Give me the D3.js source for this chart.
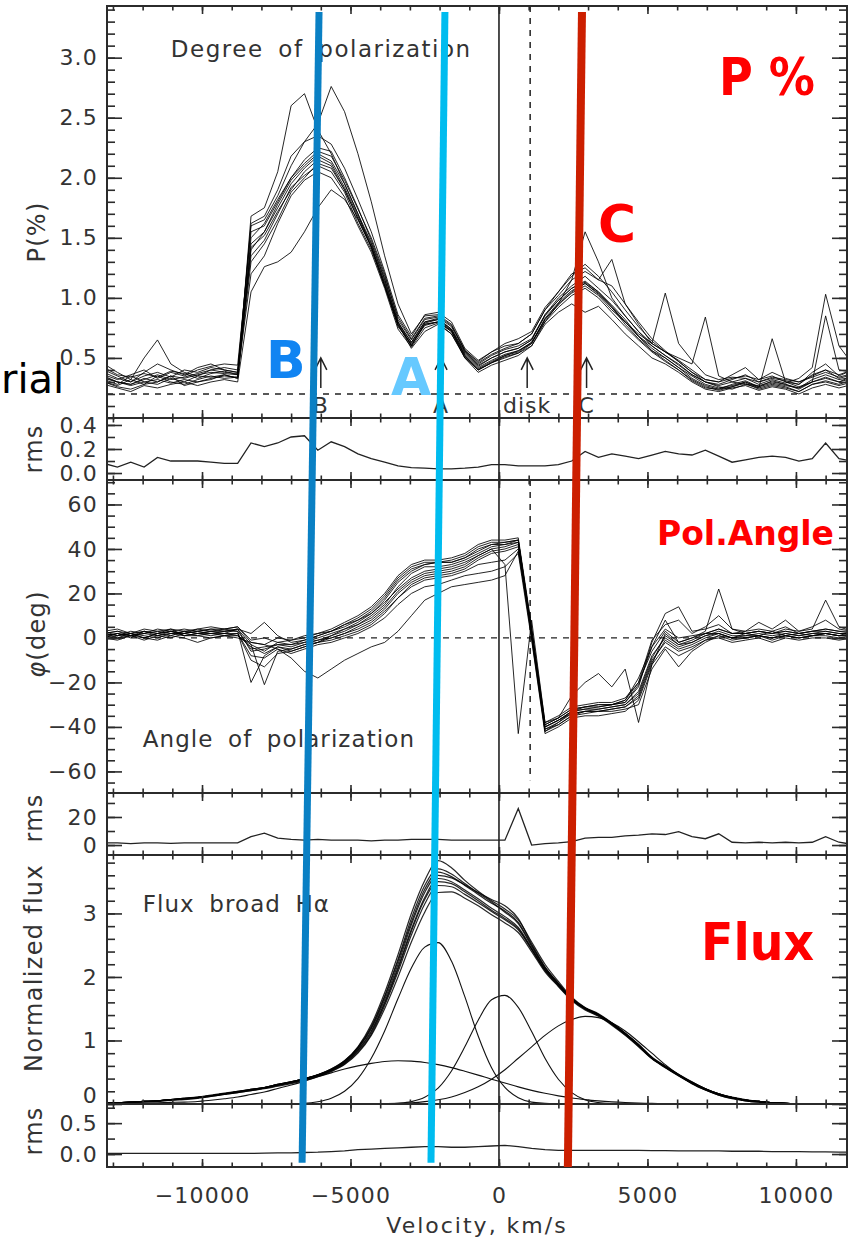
<!DOCTYPE html>
<html><head><meta charset="utf-8">
<script src="https://cdn.jsdelivr.net/npm/d3@7/dist/d3.min.js"></script>
<style>
html,body{margin:0;padding:0;background:#fff;}
svg{display:block;}
text{font-family:"DejaVu Sans",sans-serif;}
</style></head>
<body>
<svg id="chart" width="852" height="1240"></svg>
<script>
// ---------- DATA ----------
const velocity = [-13300,-12850,-12400,-11950,-11500,-11050,-10600,-10150,-9700,-9250,
  -8800,-8350,-7900,-7450,-7000,-6550,-6100,-5650,-5200,-4750,
  -4300,-3850,-3400,-2950,-2500,-2050,-1600,-1150,-700,-250,
  200,650,1100,1550,2000,2450,2900,3350,3800,4250,
  4700,5150,5600,6050,6500,6950,7400,7850,8300,8750,
  9200,9650,10100,10550,11000,11450,11900];

const xMajorTicks = [-10000,-5000,0,5000,10000];

// Degree of polarization P(%) - individual spectra
const pol01 = [0.35,0.30,0.28,0.33,0.30,0.35,0.33,0.36,0.38,0.37, 0.36,1.45,1.55,1.75,1.95,2.08,2.18,2.12,1.92,1.68, 1.45,1.15,0.80,0.63,0.80,0.82,0.74,0.54,0.43,0.50, 0.55,0.58,0.65,0.85,0.98,1.08,1.13,1.05,0.93,0.80, 0.68,0.58,0.50,0.42,0.35,0.28,0.25,0.27,0.30,0.26, 0.31,0.28,0.24,0.30,0.33,0.30,0.35];
const pol02 = [0.40,0.35,0.30,0.38,0.45,0.40,0.36,0.42,0.45,0.40, 0.38,1.60,1.65,1.85,2.10,2.30,2.45,2.76,2.55,2.20, 1.80,1.35,0.95,0.70,0.85,0.86,0.78,0.56,0.47,0.55, 0.60,0.62,0.70,0.90,1.05,1.20,1.25,1.15,1.10,0.95, 0.78,0.62,0.55,0.48,0.40,0.32,0.30,0.36,0.42,0.32, 0.35,0.30,0.28,0.38,0.45,0.35,0.40];
const pol03 = [0.32,0.28,0.35,0.30,0.28,0.33,0.30,0.35,0.34,0.36, 0.33,1.68,1.75,2.05,2.60,2.70,2.40,2.20,1.95,1.70, 1.42,1.10,0.78,0.60,0.78,0.80,0.72,0.50,0.40,0.46, 0.52,0.55,0.63,0.80,0.95,1.15,1.55,1.30,1.00,0.85, 0.72,0.60,0.52,0.45,0.36,0.30,0.26,0.24,0.28,0.25, 0.28,0.26,0.22,0.28,0.30,0.27,0.30];
const pol04 = [0.28,0.25,0.22,0.27,0.25,0.28,0.30,0.27,0.30,0.32, 0.30,1.05,1.26,1.30,1.38,1.55,1.75,1.90,1.82,1.65, 1.42,1.10,0.78,0.58,0.72,0.78,0.70,0.50,0.38,0.44, 0.48,0.52,0.60,0.78,0.88,0.95,0.88,0.93,0.82,0.70, 0.60,0.50,0.45,0.38,0.30,0.24,0.22,0.25,0.27,0.23, 0.26,0.24,0.20,0.25,0.28,0.25,0.28];
const pol05 = [0.45,0.38,0.32,0.50,0.65,0.45,0.38,0.35,0.40,0.42, 0.40,1.35,1.48,1.70,1.92,2.02,2.10,2.05,1.88,1.62, 1.40,1.10,0.76,0.62,0.78,0.80,0.73,0.53,0.42,0.48, 0.53,0.56,0.62,0.82,0.95,1.04,1.10,1.02,0.90,0.80, 0.70,0.62,1.04,0.62,0.48,0.36,0.32,0.34,0.33,0.30, 0.34,0.32,0.30,0.35,0.40,0.36,0.40];
const pol06 = [0.30,0.27,0.32,0.28,0.35,0.30,0.28,0.32,0.35,0.33, 0.34,1.50,1.62,1.82,2.00,2.12,2.22,2.18,1.98,1.74, 1.50,1.20,0.82,0.65,0.82,0.84,0.76,0.56,0.45,0.52, 0.57,0.60,0.66,0.86,1.00,1.10,1.18,1.08,0.98,0.85, 0.72,0.62,0.55,0.50,0.45,0.84,0.35,0.30,0.28,0.27, 0.30,0.28,0.25,0.32,0.36,0.32,0.34];
const pol07 = [0.38,0.33,0.30,0.35,0.38,0.34,0.40,0.38,0.42,0.40, 0.38,1.42,1.52,1.72,1.90,2.05,2.15,2.10,1.90,1.66, 1.43,1.13,0.79,0.63,0.80,0.83,0.74,0.55,0.44,0.50, 0.55,0.58,0.65,0.86,0.98,1.08,1.14,1.05,0.94,0.82, 0.68,0.60,0.52,0.44,0.36,0.30,0.27,0.30,0.33,0.28, 0.32,0.29,0.33,0.42,1.03,0.60,0.45];
const pol08 = [0.33,0.30,0.27,0.30,0.32,0.29,0.32,0.30,0.33,0.35, 0.34,1.30,1.45,1.65,1.88,2.00,2.12,2.08,1.90,1.66, 1.43,1.12,0.77,0.61,0.77,0.80,0.72,0.52,0.41,0.47, 0.52,0.56,0.63,0.82,0.94,1.05,1.12,1.04,0.92,0.80, 0.68,0.56,0.50,0.42,0.33,0.27,0.24,0.26,0.30,0.25, 0.66,0.30,0.26,0.30,0.85,0.40,0.38];
const pol09 = [0.36,0.32,0.36,0.40,0.33,0.38,0.35,0.40,0.43,0.45, 0.44,1.55,1.60,1.80,2.00,2.15,2.25,2.22,2.00,1.75, 1.48,1.18,0.84,0.66,0.83,0.85,0.77,0.57,0.46,0.53, 0.58,0.62,0.70,0.90,1.02,1.15,1.22,1.15,1.32,0.95, 0.80,0.66,0.56,0.47,0.38,0.30,0.28,0.32,0.36,0.30, 0.33,0.31,0.28,0.36,0.40,0.33,0.36];
const pol10 = [0.30,0.26,0.24,0.28,0.30,0.35,0.27,0.30,0.32,0.36, 0.33,1.40,1.55,1.78,1.98,2.10,2.20,2.14,1.95,1.70, 1.46,1.16,0.80,0.60,0.79,0.82,0.73,0.52,0.40,0.46, 0.50,0.54,0.62,0.83,0.96,1.06,1.12,1.03,0.92,0.78, 0.66,0.56,0.48,0.40,0.32,0.26,0.23,0.26,0.29,0.24, 0.27,0.25,0.22,0.28,0.31,0.28,0.32];
const pol11 = [0.34,0.30,0.28,0.32,0.36,0.32,0.34,0.37,0.40,0.38, 0.37,1.62,1.68,1.90,2.18,2.30,2.35,2.28,2.08,1.82, 1.55,1.22,0.86,0.68,0.86,0.88,0.80,0.58,0.48,0.55, 0.62,0.66,0.72,0.92,1.05,1.18,1.28,1.18,1.05,0.90, 0.76,0.64,0.55,0.47,0.38,0.32,0.30,0.33,0.35,0.32, 0.38,0.33,0.30,0.34,0.38,0.34,0.37];
const pol12 = [0.42,0.36,0.34,0.37,0.34,0.39,0.37,0.33,0.37,0.39, 0.36,1.20,1.35,1.62,1.85,1.98,2.05,2.00,1.84,1.60, 1.38,1.08,0.74,0.59,0.75,0.79,0.70,0.51,0.40,0.46, 0.51,0.54,0.60,0.80,0.92,1.02,1.08,1.00,0.88,0.76, 0.65,0.55,0.47,0.40,0.31,0.25,0.24,0.28,0.31,0.26, 0.29,0.27,0.25,0.30,0.34,0.30,0.33];
const polRms = [0.08,0.05,0.09,0.05,0.13,0.10,0.10,0.10,0.09,0.08, 0.08,0.25,0.22,0.25,0.30,0.31,0.19,0.26,0.22,0.16, 0.12,0.09,0.06,0.045,0.04,0.035,0.035,0.04,0.05,0.07, 0.07,0.06,0.06,0.06,0.07,0.10,0.18,0.13,0.16,0.14, 0.12,0.15,0.18,0.16,0.15,0.19,0.14,0.09,0.11,0.13, 0.14,0.13,0.10,0.12,0.25,0.12,0.10];

// Angle of polarization (deg) - individual spectra
const ang01 = [1,2,0,3,1,2,2,3,2,3, 3,-5,-4,-3,-4,-2,-1,0,2,5, 8,13,20,25,28,29,30,32,36,39, 40,42,2,-40,-37,-33,-32,-32,-31,-30, -24,-8,0,-4,-2,1,3,1,1,2, 1,2,1,2,3,2,2];
const ang02 = [3,1,2,0,2,4,1,2,3,2, 4,-3,-6,-2,-3,-1,1,3,5,8, 11,16,22,27,30,31,32,34,37,40, 33,-43,8,-38,-36,-32,-31,-30,-30,-28, -20,-6,3,-2,0,2,2,0,2,1, 3,1,2,1,2,1,3];
const ang03 = [0,-1,1,0,-1,1,0,-2,0,1, 0,-2,-3,-5,-9,-15,-18,-14,-10,-7, -4,-2,3,10,17,20,23,24,25,26, 28,39,3,-41,-39,-35,-33,-33,-32,-31, -26,-10,-2,-6,-4,-1,1,0,0,1, 0,1,0,1,2,1,1];
const ang04 = [2,3,1,2,4,3,2,4,3,4, 3,-20,-8,-4,-5,-3,-2,1,3,6, 10,15,23,29,32,32,33,35,38,41, 42,43,1,-39,-36,-26,-20,-16,-22,-14, -38,-12,2,-3,-1,2,4,2,2,3, 2,3,2,3,4,3,3];
const ang05 = [1,0,2,1,0,2,1,1,2,2, 1,-3,-21,-6,-5,-3,-1,1,4,7, 11,17,25,30,33,34,34,36,40,42, 43,44,4,-42,-38,-33,-31,-30,-30,-28, -18,-4,8,-2,0,3,22,4,2,3, 2,4,3,4,17,5,3];
const ang06 = [2,1,3,2,1,3,2,3,4,3, 4,2,7,1,-2,-1,1,3,6,9, 13,19,27,32,34,34,35,37,41,43, 43,44,3,-40,-37,-33,-32,-31,-30,-29, -22,-2,11,14,3,4,6,2,3,4, 3,5,2,3,4,3,2];
const ang07 = [0,2,1,3,2,1,3,2,1,2, 2,-10,-13,-7,-6,-4,-2,0,2,4, 7,12,18,24,27,28,29,31,35,38, 39,41,0,-42,-39,-35,-34,-33,-33,-32, -30,-14,-5,-13,-6,-2,1,-1,0,1, -1,1,0,1,1,0,1];
const ang08 = [-1,1,2,0,2,3,1,2,2,1, 2,-8,-9,-5,-7,-5,-3,-2,0,2, 5,9,15,20,23,24,26,28,29,30, 32,38,-1,-43,-40,-36,-35,-35,-34,-33, -28,-12,-4,-8,-5,-1,0,-2,-1,0, -2,0,-1,0,0,-1,0];
const ang09 = [3,4,2,4,3,4,3,4,5,4, 5,-2,-3,0,-1,1,2,4,7,10, 14,20,28,33,35,35,36,38,42,44, 44,45,5,-38,-35,-31,-30,-29,-29,-27, -20,-1,6,8,2,5,10,4,3,7, 4,8,3,5,8,4,3];
const ang10 = [1,2,1,2,3,2,3,2,3,3, 4,-6,-5,-3,-3,-2,0,2,4,6, 9,14,21,26,29,30,31,33,37,40, 41,43,2,-40,-37,-34,-33,-32,-31,-30, -25,-9,1,-3,-2,1,2,0,1,1, 0,2,1,2,2,1,2];
const ang11 = [2,0,1,-1,1,0,2,1,0,1, 1,-4,-7,-4,-6,-4,-2,-1,1,3, 6,11,18,23,26,27,28,30,33,34, 35,40,1,-41,-38,-34,-33,-33,-32,-31, -27,-11,-1,-5,-3,0,2,0,0,1, 0,1,0,1,2,1,1];
const ang12 = [2,3,2,3,2,3,4,3,4,4, 5,-1,0,-2,-1,0,2,3,6,8, 12,18,26,31,33,34,34,36,39,42, 42,44,3,-39,-36,-32,-31,-31,-30,-29, -21,-4,4,0,1,2,4,2,2,3, 2,3,2,3,3,2,2];
const angRms = [1.5,1.5,1.0,1.5,1.5,1.2,1.5,1.5,1.5,1.5, 1.5,6,8.5,5,4,3.5,4,3.5,3.5,3.5, 3,3.5,3.5,4,4,4,3.5,3.5,3.5,3.5, 3.5,26,0,1,1.5,2.5,5,5.5,5.5,6.5, 7,8,7.5,9.5,6,4.5,8,2,1.5,2, 1.5,2,1.5,2,6,2,0.5];

// Normalized broad H-alpha flux - individual spectra
const flux01 = [0.01,0.02,0.03,0.04,0.05,0.07,0.08,0.10,0.13,0.16, 0.19,0.22,0.25,0.30,0.34,0.39,0.45,0.53,0.65,0.85, 1.15,1.60,2.15,2.75,3.25,3.55,3.50,3.37,3.23,3.08, 2.95,2.78,2.45,2.12,1.88,1.65,1.50,1.40,1.26,1.10, 0.92,0.72,0.58,0.45,0.33,0.23,0.15,0.10,0.06,0.04, 0.02,0.01,0,0,0,0,0];
const flux02 = [0.01,0.02,0.03,0.04,0.05,0.07,0.09,0.11,0.14,0.17, 0.20,0.23,0.26,0.31,0.35,0.40,0.46,0.55,0.68,0.90, 1.25,1.75,2.35,3.00,3.52,3.83,3.72,3.52,3.35,3.20, 3.07,2.90,2.55,2.20,1.93,1.68,1.52,1.42,1.28,1.12, 0.94,0.74,0.60,0.47,0.35,0.24,0.16,0.11,0.07,0.04, 0.02,0.01,0,0,0,0,0];
const flux03 = [0.01,0.02,0.02,0.03,0.04,0.06,0.07,0.09,0.12,0.15, 0.18,0.21,0.24,0.28,0.32,0.37,0.43,0.51,0.62,0.80, 1.08,1.50,2.00,2.55,3.02,3.33,3.34,3.24,3.12,2.98, 2.85,2.70,2.40,2.08,1.85,1.63,1.48,1.38,1.24,1.08, 0.90,0.71,0.57,0.44,0.32,0.22,0.14,0.09,0.05,0.03, 0.02,0.01,0,0,0,0,0];
const flux04 = [0.01,0.02,0.03,0.04,0.05,0.07,0.08,0.10,0.13,0.16, 0.19,0.22,0.26,0.30,0.35,0.40,0.46,0.54,0.67,0.88, 1.20,1.68,2.25,2.86,3.38,3.65,3.58,3.44,3.30,3.16, 3.04,2.86,2.50,2.15,1.90,1.67,1.51,1.41,1.27,1.11, 0.93,0.73,0.59,0.46,0.34,0.24,0.16,0.10,0.06,0.04, 0.02,0.01,0,0,0,0,0];
const flux05 = [0.01,0.02,0.03,0.04,0.05,0.06,0.08,0.10,0.12,0.15, 0.18,0.21,0.25,0.29,0.33,0.38,0.44,0.52,0.63,0.82, 1.10,1.55,2.08,2.66,3.15,3.44,3.42,3.30,3.17,3.03, 2.90,2.74,2.43,2.10,1.86,1.64,1.49,1.39,1.25,1.09, 0.91,0.72,0.58,0.45,0.33,0.23,0.15,0.10,0.06,0.04, 0.02,0.01,0,0,0,0,0];
const flux06 = [0.01,0.02,0.03,0.04,0.05,0.07,0.09,0.10,0.13,0.16, 0.19,0.23,0.26,0.31,0.35,0.40,0.46,0.54,0.66,0.87, 1.18,1.64,2.20,2.82,3.33,3.60,3.56,3.45,3.33,3.22, 3.12,2.92,2.52,2.16,1.90,1.66,1.51,1.41,1.27,1.11, 0.93,0.73,0.59,0.46,0.34,0.24,0.16,0.10,0.06,0.04, 0.02,0.01,0,0,0,0,0];
const flux07 = [0.01,0.02,0.03,0.04,0.05,0.07,0.08,0.10,0.13,0.16, 0.19,0.22,0.25,0.30,0.34,0.39,0.45,0.53,0.64,0.84, 1.13,1.58,2.12,2.72,3.22,3.50,3.47,3.34,3.20,3.05, 2.92,2.76,2.44,2.11,1.87,1.65,1.50,1.40,1.26,1.10, 0.92,0.72,0.58,0.45,0.33,0.23,0.15,0.10,0.06,0.04, 0.02,0.01,0,0,0,0,0];
const flux08 = [0.01,0.02,0.03,0.04,0.05,0.07,0.09,0.11,0.13,0.16, 0.20,0.23,0.26,0.31,0.35,0.40,0.46,0.55,0.68,0.89, 1.22,1.70,2.28,2.92,3.44,3.70,3.62,3.47,3.32,3.18, 3.02,2.84,2.48,2.14,1.89,1.66,1.51,1.41,1.27,1.11, 0.93,0.73,0.59,0.46,0.34,0.24,0.16,0.10,0.06,0.04, 0.02,0.01,0,0,0,0,0];
// fitted Gaussian components of the line
const compBroad = [0,0.005,0.01,0.015,0.02,0.025,0.03,0.04,0.06,0.083, 0.11,0.15,0.19,0.245,0.30,0.36,0.43,0.49,0.55,0.60, 0.64,0.67,0.68,0.675,0.654,0.62,0.573,0.516,0.455,0.39, 0.33,0.27,0.215,0.168,0.128,0.095,0.069,0.049,0.034,0.023, 0.015,0.01,0.006,0,0,0,0,0,0,0, 0,0,0,0,0,0,0];
const compBlue = [0,0,0,0,0,0,0,0,0,0, 0,0,0,0,0.005,0.01,0.035,0.09,0.20,0.40, 0.72,1.15,1.66,2.14,2.47,2.54,2.25,1.69,1.07,0.57, 0.26,0.10,0.03,0.01,0,0,0,0,0,0, 0,0,0,0,0,0,0,0,0,0, 0,0,0,0,0,0,0];
const compCore = [0,0,0,0,0,0,0,0,0,0, 0,0,0,0,0,0,0,0,0,0, 0,0,0.011,0.037,0.105,0.25,0.52,0.90,1.32,1.64, 1.71,1.52,1.14,0.72,0.39,0.18,0.067,0.022,0.006,0, 0,0,0,0,0,0,0,0,0,0, 0,0,0,0,0,0,0];
const compRed = [0,0,0,0,0,0,0,0,0,0, 0,0,0,0,0,0,0,0,0,0, 0.002,0.005,0.011,0.02,0.038,0.066,0.11,0.18,0.27,0.39, 0.54,0.72,0.90,1.08,1.23,1.33,1.38,1.36,1.28,1.15, 0.98,0.80,0.62,0.46,0.32,0.22,0.14,0.084,0.049,0.027, 0.014,0.007,0.003,0,0,0,0];
const fluxRms = [0.01,0.01,0.01,0.01,0.01,0.01,0.01,0.01,0.01,0.01, 0.01,0.01,0.015,0.02,0.02,0.025,0.03,0.04,0.05,0.07, 0.08,0.09,0.10,0.11,0.12,0.12,0.11,0.11,0.12,0.13, 0.14,0.12,0.09,0.07,0.06,0.06,0.06,0.06,0.06,0.06, 0.06,0.055,0.055,0.05,0.05,0.05,0.05,0.045,0.045,0.045, 0.04,0.04,0.04,0.035,0.035,0.03,0.03];

// marked velocities
const arrowLabels = ["B","A","disk","C"];
const arrowVelocities = [-6000,-1950,950,2950];
const diskLineVelocity = 1050;
// highlighted velocity lines drawn over the figure (top velocity, bottom velocity)
const markerTopVel = [-6060,-1820,2795];
const markerBottomVel = [-6630,-2290,2320];
const markerColors = ["#0a80c4","#00bcef","#cc1f00"];

const polCurves = [pol01,pol02,pol03,pol04,pol05,pol06,pol07,pol08,pol09,pol10,pol11,pol12];
const angCurves = [ang01,ang02,ang03,ang04,ang05,ang06,ang07,ang08,ang09,ang10,ang11,ang12];
const fluxCurves = [flux01,flux02,flux03,flux04,flux05,flux06,flux07,flux08];
const fluxComponents = [compBroad,compBlue,compCore,compRed];

// ---------- LAYOUT ----------
const svg = d3.select("#chart");
const L = 107, R = 847;
const x = d3.scaleLinear().domain([-13200, 11720]).range([L, R]);
const frameColor = "#2b2b2b", textColor = "#333";

const panels = [
  {id:"pol",  domain:[0,3.43],       px:[418,6],     major:[0.5,1,1.5,2,2.5,3], minorStep:0.1, fmt:d3.format(".1f"), title:"P(%)", ty:232, tx:45},
  {id:"rmsP", domain:[-0.058,0.458], px:[480,418],   major:[0,0.2,0.4], minorStep:0.1, fmt:d3.format(".1f"), title:"rms", ty:449, tx:42},
  {id:"ang",  domain:[-69.7,71],     px:[793,480],   major:[-60,-40,-20,0,20,40,60], minorStep:5, fmt:d3.format("d"), title:"φ(deg)", ty:634, tx:45},
  {id:"rmsA", domain:[-7.1,37.1],    px:[855,793],   major:[0,20], minorStep:10, fmt:d3.format("d"), title:"rms", ty:818, tx:42},
  {id:"flux", domain:[0,3.92],       px:[1104,855],  major:[0,1,2,3], minorStep:0.2, fmt:d3.format("d"), title:"Normalized flux", ty:968, tx:42},
  {id:"rmsF", domain:[-0.21,0.81],   px:[1167,1104], major:[0,0.5], minorStep:0.25, fmt:d3.format(".1f"), title:"rms", ty:1131, tx:42}
];
const P = {};
panels.forEach(p => {
  p.y = d3.scaleLinear().domain(p.domain).range(p.px);
  P[p.id] = p;
  svg.append("clipPath").attr("id","clip-"+p.id).append("rect")
    .attr("x",L).attr("y",p.px[1]).attr("width",R-L).attr("height",p.px[0]-p.px[1]);
});

const g = svg.append("g");

function styleAxis(sel){
  sel.select(".domain").remove();
  sel.selectAll("line").attr("stroke",frameColor).attr("stroke-width",1.6);
  sel.selectAll("text").attr("fill",textColor).attr("font-size",22)
    .attr("font-family","DejaVu Sans").attr("letter-spacing",1.2);
}

function lineFor(y, curve){ return d3.line().x((d,i)=>x(velocity[i])).y(d=>y(d)).curve(curve||d3.curveLinear); }

// --- polarization degree panel
{
  const p = P.pol, gc = g.append("g").attr("clip-path","url(#clip-pol)");
  gc.append("line").attr("x1",x(-13200)).attr("x2",x(11720)).attr("y1",p.y(0.2)).attr("y2",p.y(0.2))
    .attr("stroke","#222").attr("stroke-width",1.3).attr("stroke-dasharray","6,6");
  gc.append("line").attr("x1",x(diskLineVelocity)).attr("x2",x(diskLineVelocity)).attr("y1",p.y(3.43)).attr("y2",p.y(0.79))
    .attr("stroke","#222").attr("stroke-width",1.5).attr("stroke-dasharray","6,6");
  gc.selectAll("path.c").data(polCurves).join("path").attr("class","c")
    .attr("d",lineFor(p.y)).attr("fill","none").attr("stroke","#000").attr("stroke-width",1).attr("stroke-opacity",0.85);
  arrowVelocities.forEach((v,i)=>{
    const xv = x(v), y0 = p.y(0.25), y1 = p.y(0.5);
    gc.append("path").attr("d",`M${xv},${y0}L${xv},${y1}M${xv-6},${y1+12}L${xv},${y1}L${xv+6},${y1+12}`)
      .attr("fill","none").attr("stroke","#222").attr("stroke-width",1.5);
    gc.append("text").attr("x",xv).attr("y",p.y(0.04)).attr("text-anchor","middle")
      .attr("font-size",22).attr("letter-spacing",1).attr("fill",textColor).text(arrowLabels[i]);
  });
  gc.append("text").attr("x",x(-11050)).attr("y",p.y(3.0)-1).attr("font-size",23).attr("letter-spacing",1.5)
    .attr("word-spacing",6).attr("fill",textColor).text("Degree of polarization");
}
// --- rms P
{
  const p = P.rmsP;
  g.append("g").attr("clip-path","url(#clip-rmsP)").append("path").datum(polRms)
    .attr("d",lineFor(p.y)).attr("fill","none").attr("stroke","#222").attr("stroke-width",1.3);
}
// --- angle panel
{
  const p = P.ang, gc = g.append("g").attr("clip-path","url(#clip-ang)");
  gc.append("line").attr("x1",x(-13200)).attr("x2",x(11720)).attr("y1",p.y(0)).attr("y2",p.y(0))
    .attr("stroke","#222").attr("stroke-width",1.3).attr("stroke-dasharray","6,6");
  gc.append("line").attr("x1",x(diskLineVelocity)).attr("x2",x(diskLineVelocity)).attr("y1",p.y(71)).attr("y2",p.y(-64))
    .attr("stroke","#222").attr("stroke-width",1.5).attr("stroke-dasharray","6,6");
  gc.selectAll("path.c").data(angCurves).join("path").attr("class","c")
    .attr("d",lineFor(p.y)).attr("fill","none").attr("stroke","#000").attr("stroke-width",1).attr("stroke-opacity",0.85);
  gc.append("text").attr("x",x(-12000)).attr("y",p.y(-49)).attr("font-size",23).attr("letter-spacing",1.1)
    .attr("word-spacing",6).attr("fill",textColor).text("Angle of polarization");
}
// --- rms angle
{
  const p = P.rmsA;
  g.append("g").attr("clip-path","url(#clip-rmsA)").append("path").datum(angRms)
    .attr("d",lineFor(p.y)).attr("fill","none").attr("stroke","#222").attr("stroke-width",1.3);
}
// --- flux panel
{
  const p = P.flux, gc = g.append("g").attr("clip-path","url(#clip-flux)");
  gc.selectAll("path.comp").data(fluxComponents).join("path").attr("class","comp")
    .attr("d",lineFor(p.y, d3.curveMonotoneX)).attr("fill","none").attr("stroke","#111").attr("stroke-width",1.1);
  gc.selectAll("path.c").data(fluxCurves).join("path").attr("class","c")
    .attr("d",lineFor(p.y, d3.curveMonotoneX)).attr("fill","none").attr("stroke","#000").attr("stroke-width",1.2).attr("stroke-opacity",0.85);
  gc.append("text").attr("x",x(-12000)).attr("y",p.y(3.0)-1).attr("font-size",23).attr("letter-spacing",1.1)
    .attr("word-spacing",6).attr("fill",textColor).text("Flux broad Hα");
}
// --- rms flux
{
  const p = P.rmsF;
  g.append("g").attr("clip-path","url(#clip-rmsF)").append("path").datum(fluxRms)
    .attr("d",lineFor(p.y)).attr("fill","none").attr("stroke","#222").attr("stroke-width",1.3);
}

// zero-velocity line across all panels
g.append("line").attr("x1",x(0)).attr("x2",x(0)).attr("y1",P.pol.px[1]).attr("y2",P.rmsF.px[0])
  .attr("stroke","#222").attr("stroke-width",1.6);

// ---------- AXES / FRAMES ----------
const xMinor = d3.range(-13000, 11721, 1000);
panels.forEach((p, idx) => {
  const [yb, yt] = p.px;
  g.append("rect").attr("x",L).attr("y",yt).attr("width",R-L).attr("height",yb-yt)
    .attr("fill","none").attr("stroke",frameColor).attr("stroke-width",2);
  const minors = d3.range(Math.ceil(p.domain[0]/p.minorStep-1e-9)*p.minorStep, p.domain[1]+1e-9, p.minorStep);
  g.append("g").attr("transform",`translate(${L},0)`).call(d3.axisLeft(p.y).tickValues(minors).tickSize(-8).tickFormat("")).call(styleAxis);
  const lab = g.append("g").attr("transform",`translate(${L},0)`)
    .call(d3.axisLeft(p.y).tickValues(p.major).tickSize(-15).tickPadding(9).tickFormat(p.fmt)).call(styleAxis);
  if (p.id === "flux") lab.selectAll(".tick").filter(d=>d===0).select("text").attr("dy","-0.05em");
  g.append("g").attr("transform",`translate(${R},0)`).call(d3.axisRight(p.y).tickValues(minors).tickSize(-8).tickFormat("")).call(styleAxis);
  g.append("g").attr("transform",`translate(${R},0)`).call(d3.axisRight(p.y).tickValues(p.major).tickSize(-15).tickFormat("")).call(styleAxis);
  g.append("g").attr("transform",`translate(0,${yt})`).call(d3.axisTop(x).tickValues(xMinor).tickSize(-4.5).tickFormat("")).call(styleAxis);
  g.append("g").attr("transform",`translate(0,${yt})`).call(d3.axisTop(x).tickValues(xMajorTicks).tickSize(-8).tickFormat("")).call(styleAxis);
  g.append("g").attr("transform",`translate(0,${yb})`).call(d3.axisBottom(x).tickValues(xMinor).tickSize(-4.5).tickFormat("")).call(styleAxis);
  const isLast = idx === panels.length-1;
  g.append("g").attr("transform",`translate(0,${yb})`)
    .call(d3.axisBottom(x).tickValues(xMajorTicks).tickSize(-8).tickPadding(20).tickFormat(isLast ? d3.format("d") : ""))
    .call(styleAxis);
  const tt = g.append("text").attr("transform",`translate(${p.tx},${p.ty}) rotate(-90)`).attr("text-anchor","middle")
    .attr("font-size",24).attr("letter-spacing",1.3).attr("fill",textColor);
  if (p.id === "ang") { tt.append("tspan").attr("font-style","italic").text("φ"); tt.append("tspan").text("(deg)"); }
  else tt.text(p.title);
});
g.append("text").attr("x",(L+R)/2).attr("y",1233).attr("text-anchor","middle").attr("font-size",22)
  .attr("letter-spacing",2).attr("fill",textColor).text("Velocity, km/s");

// ---------- OVERLAY ANNOTATIONS ----------
const ov = svg.append("g");
markerColors.forEach((c,i)=>{
  ov.append("line").attr("x1",x(markerTopVel[i])).attr("y1",P.pol.y(3.38))
    .attr("x2",x(markerBottomVel[i])).attr("y2",P.rmsF.y(i===2?-0.21:-0.14))
    .attr("stroke",c).attr("stroke-width",i===2?8:7);
});
const bold = s => s.attr("font-family","Liberation Sans, Arial, sans-serif").attr("font-weight","bold");
ov.append("text").attr("x",719).attr("y",95).attr("font-size",52).attr("textLength",96).attr("lengthAdjust","spacingAndGlyphs")
  .attr("fill","#ff0000").call(bold).text("P %");
ov.append("text").attr("x",598).attr("y",242).attr("font-size",52).attr("textLength",38).attr("lengthAdjust","spacingAndGlyphs")
  .attr("fill","#ff0000").call(bold).text("C");
ov.append("text").attr("x",657).attr("y",545).attr("font-size",34).attr("textLength",177).attr("lengthAdjust","spacingAndGlyphs")
  .attr("fill","#ff0000").call(bold).text("Pol.Angle");
ov.append("text").attr("x",701).attr("y",960).attr("font-size",52).attr("textLength",113).attr("lengthAdjust","spacingAndGlyphs")
  .attr("fill","#ff0000").call(bold).text("Flux");
ov.append("text").attr("x",266).attr("y",378).attr("font-size",52).attr("fill","#1084f2").call(bold).text("B");
ov.append("text").attr("x",391).attr("y",395).attr("font-size",52).attr("fill","#66c9ff").call(bold).text("A");
ov.append("text").attr("x",1).attr("y",393).attr("font-size",40).attr("fill","#000")
  .attr("font-family","Liberation Sans, Arial, sans-serif").text("rial");
</script>
</body></html>
